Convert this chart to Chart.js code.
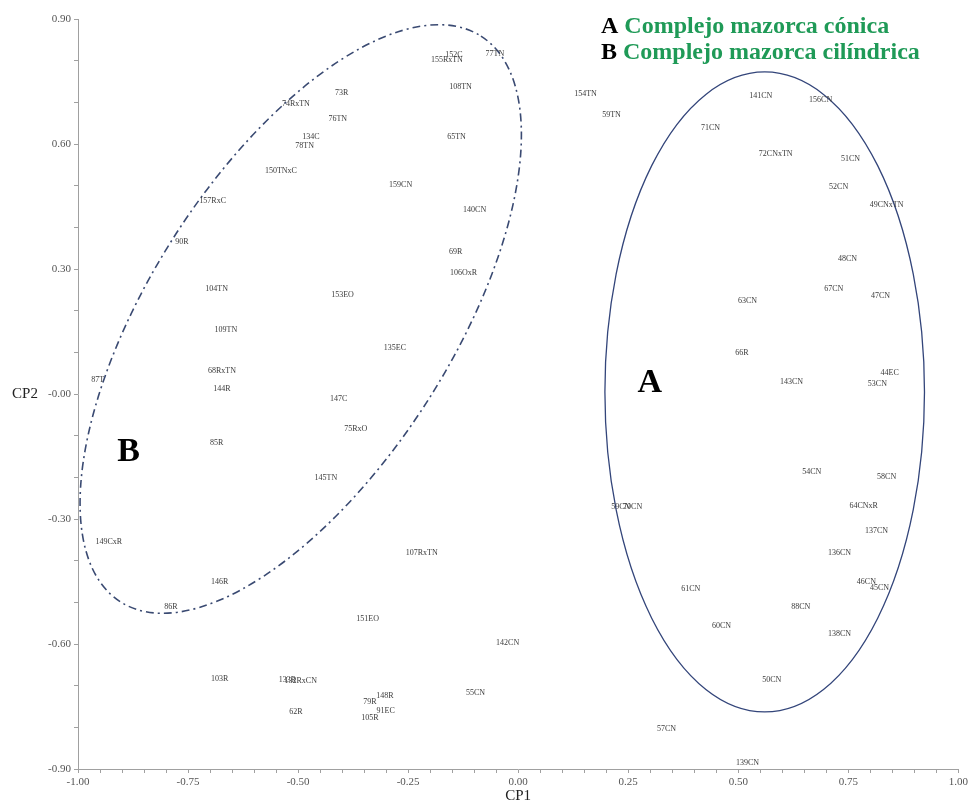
<!DOCTYPE html>
<html>
<head>
<meta charset="utf-8">
<script src="https://cdn.jsdelivr.net/npm/chart.js@4.4.1/dist/chart.umd.min.js"></script>
<style>
  html, body { margin: 0; padding: 0; background: #ffffff; }
  #wrap { width: 971px; height: 803px; position: relative; }
</style>
</head>
<body>
<div id="wrap"><canvas id="c"></canvas></div>
<script>
// ---------- data ----------
const names = ['152C','155RxTN','77TN','108TN','73R','76TN','65TN','159CN','140CN','69R','106OxR','154TN','59TN',
  '74RxTN','134C','78TN','150TNxC','157RxC','90R','104TN','109TN','68RxTN','144R','85R','87T','153EO','135EC','147C',
  '75RxO','145TN','59CN','70CN','63CN','67CN','47CN','48CN','66R','143CN','44EC','53CN','54CN','58CN','64CNxR',
  '141CN','156CN','71CN','72CNxTN','51CN','52CN','49CNxTN','137CN','136CN','46CN','45CN','61CN','88CN','60CN',
  '138CN','50CN','57CN','139CN','149CxR','146R','86R','103R','133R','132RxCN','62R','107RxTN','151EO','142CN',
  '148R','79R','91EC','105R','55CN'];
const cp1 = [-0.146,-0.162,-0.053,-0.131,-0.401,-0.410,-0.140,-0.267,-0.099,-0.142,-0.124,0.153,0.212,
  -0.505,-0.471,-0.485,-0.539,-0.694,-0.764,-0.685,-0.664,-0.673,-0.673,-0.685,-0.955,-0.399,-0.280,-0.408,
  -0.369,-0.437,0.233,0.260,0.521,0.717,0.823,0.748,0.508,0.621,0.844,0.816,0.667,0.837,0.785,
  0.551,0.687,0.437,0.585,0.755,0.728,0.837,0.814,0.730,0.791,0.821,0.392,0.642,0.462,
  0.730,0.576,0.337,0.521,-0.930,-0.678,-0.789,-0.678,-0.524,-0.494,-0.505,-0.219,-0.342,-0.024,
  -0.303,-0.337,-0.301,-0.337,-0.097];
const cp2 = [0.815,0.803,0.817,0.738,0.723,0.661,0.618,0.502,0.442,0.341,0.291,0.721,0.671,
  0.697,0.618,0.596,0.536,0.464,0.366,0.253,0.154,0.056,0.012,-0.117,0.034,0.238,0.111,-0.012,
  -0.084,-0.201,-0.271,-0.271,0.224,0.253,0.236,0.325,0.099,0.029,0.051,0.024,-0.187,-0.199,-0.268,
  0.716,0.707,0.639,0.577,0.565,0.498,0.454,-0.329,-0.381,-0.451,-0.465,-0.468,-0.511,-0.557,
  -0.576,-0.686,-0.804,-0.886,-0.355,-0.451,-0.511,-0.684,-0.686,-0.689,-0.763,-0.381,-0.540,-0.598,
  -0.725,-0.739,-0.761,-0.778,-0.718];

const xTickLabels = ['-1.00','-0.75','-0.50','-0.25','0.00','0.25','0.50','0.75','1.00'];
const yTickLabels = ['-0.90','-0.60','-0.30','-0.00','0.30','0.60','0.90'];

// group letters (data coords)
const groupLetters = ['A','B'];
const groupX = [0.299, -0.885];
const groupY = [0.027, -0.139];

// group ellipses (data coords): center, semi-axes (x-units / y-units), rotation deg
const ellA = { cx: 0.560, cy: 0.005, rx: 0.363, ry: 0.768 };
const ellB = { cx: -0.494, cy: 0.180, a: 0.762, b: 0.343, angle: 57.5 };

const legendKeys = ['A','B'];
const legendTexts = ['Complejo mazorca cónica','Complejo mazorca cilíndrica'];

// ---------- plugins ----------
const SERIF = '"Liberation Serif", "Times New Roman", serif';

const overlayPlugin = {
  id: 'overlay',
  afterDatasetsDraw(chart) {
    const ctx = chart.ctx;
    const xs = chart.scales.x, ys = chart.scales.y;
    const pxX = xs.getPixelForValue(1) - xs.getPixelForValue(0);
    const pxY = ys.getPixelForValue(0) - ys.getPixelForValue(1);
    ctx.save();
    // ellipse A (solid)
    ctx.strokeStyle = '#33457a';
    ctx.lineWidth = 1.3;
    ctx.beginPath();
    ctx.ellipse(xs.getPixelForValue(ellA.cx), ys.getPixelForValue(ellA.cy), ellA.rx * pxX, ellA.ry * pxY, 0, 0, Math.PI * 2);
    ctx.stroke();
    // ellipse B (dash-dot)
    ctx.strokeStyle = '#3a4a72';
    ctx.lineWidth = 1.6;
    ctx.setLineDash([8, 4, 2, 4]);
    ctx.beginPath();
    ctx.ellipse(xs.getPixelForValue(ellB.cx), ys.getPixelForValue(ellB.cy), ellB.a * pxX, ellB.b * pxX, -ellB.angle * Math.PI / 180, 0, Math.PI * 2);
    ctx.stroke();
    ctx.setLineDash([]);

    // point labels
    const meta = chart.getDatasetMeta(0);
    ctx.fillStyle = '#3a3a3a';
    ctx.font = '8px ' + SERIF;
    ctx.textAlign = 'center';
    ctx.textBaseline = 'middle';
    meta.data.forEach((el, i) => { ctx.fillText(names[i], el.x, el.y); });

    // group letters
    ctx.fillStyle = '#000';
    ctx.font = 'bold 34px ' + SERIF;
    groupLetters.forEach((g, i) => {
      ctx.fillText(g, xs.getPixelForValue(groupX[i]), ys.getPixelForValue(groupY[i]));
    });

    // axis titles
    const ca = chart.chartArea;
    ctx.fillStyle = '#222';
    ctx.font = '15px ' + SERIF;
    ctx.fillText('CP1', (ca.left + ca.right) / 2, ca.bottom + 27);
    ctx.fillText('CP2', 25, ys.getPixelForValue(0));

    // legend text
    ctx.textAlign = 'left';
    ctx.font = 'bold 24px ' + SERIF;
    legendKeys.forEach((k, i) => {
      const y = 27 + i * 26;
      ctx.fillStyle = '#000';
      ctx.fillText(k + ' ', 601, y);
      const w = ctx.measureText(k + ' ').width;
      ctx.fillStyle = '#1f9a57';
      ctx.fillText(legendTexts[i], 601 + w, y);
    });
    ctx.restore();
  }
};

// ---------- chart ----------
const isMult = (v, s) => Math.abs(v / s - Math.round(v / s)) < 1e-6;

new Chart(document.getElementById('c'), {
  type: 'scatter',
  data: {
    datasets: [{
      data: cp1.map((x, i) => ({ x: x, y: cp2[i] })),
      pointRadius: 0,
      pointHoverRadius: 0,
      showLine: false
    }]
  },
  options: {
    responsive: true,
    maintainAspectRatio: false,
    animation: false,
    events: [],
    layout: { padding: { top: 19, right: 11, left: 0, bottom: 0 } },
    plugins: { legend: { display: false }, tooltip: { enabled: false } },
    scales: {
      x: {
        type: 'linear', min: -1, max: 1,
        afterFit(s) { s.height = 34; },
        border: { display: true, color: '#a0a0a0', width: 1 },
        grid: { display: true, drawOnChartArea: false, drawTicks: true, tickLength: 4, color: '#a0a0a0' },
        ticks: {
          stepSize: 0.05, autoSkip: false, maxRotation: 0, padding: 3,
          font: { family: SERIF, size: 11 }, color: '#555',
          callback(v) { return isMult(v, 0.25) ? xTickLabels[Math.round(v / 0.25) + 4] : ''; }
        }
      },
      y: {
        type: 'linear', min: -0.9, max: 0.9,
        afterFit(s) { s.width = 78; },
        border: { display: true, color: '#a0a0a0', width: 1 },
        grid: { display: true, drawOnChartArea: false, drawTicks: true, tickLength: 4, color: '#a0a0a0' },
        ticks: {
          stepSize: 0.1, autoSkip: false, padding: 3,
          font: { family: SERIF, size: 11 }, color: '#555',
          callback(v) { return isMult(v, 0.3) ? yTickLabels[Math.round(v / 0.3) + 3] : ''; }
        }
      }
    }
  },
  plugins: [overlayPlugin]
});
</script>
</body>
</html>
